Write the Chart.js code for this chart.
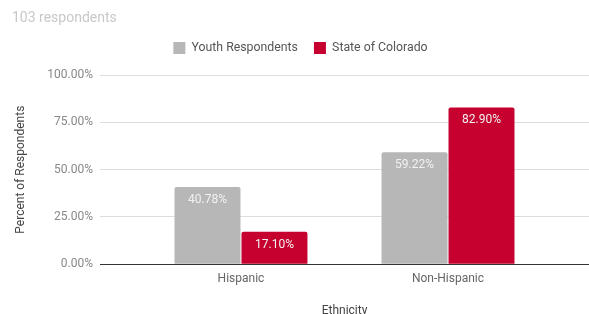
<!DOCTYPE html>
<html>
<head>
<meta charset="utf-8">
<script src="https://cdn.jsdelivr.net/npm/chart.js@4.4.1/dist/chart.umd.min.js"></script>
<style>
html,body{margin:0;padding:0;background:#fff;overflow:hidden;}
#wrap{width:589px;height:314px;position:relative;}
</style>
</head>
<body>
<div id="wrap"><canvas id="chart"></canvas></div>
<script>
const categories=["Hispanic","Non-Hispanic"];
const youthValues=[40.78,59.22];
const coloradoValues=[17.10,82.90];
const yTicks=[0,25,50,75,100];

const barLabels={
id:"barLabels",
afterDatasetsDraw(chart){
const ctx=chart.ctx;
ctx.save();
ctx.font="12px Roboto";
ctx.fillStyle="#f2f2f2";
ctx.textAlign="center";
ctx.textBaseline="middle";
chart.data.datasets.forEach((ds,i)=>{
chart.getDatasetMeta(i).data.forEach((bar,j)=>{
ctx.fillText(ds.data[j].y.toFixed(2)+"%",bar.x,bar.y+13);
});
});
ctx.restore();
}
};

new Chart(document.getElementById("chart"),{
type:"bar",
data:{
datasets:[{
label:"Youth Respondents",
data:youthValues.map((v,i)=>({x:i,y:v})),
backgroundColor:"#b7b7b7",
borderRadius:2,
borderSkipped:"bottom",
xAxisID:"x",
yAxisID:"y"
},{
label:"State of Colorado",
data:coloradoValues.map((v,i)=>({x:i,y:v})),
backgroundColor:"#c6002f",
borderRadius:2,
borderSkipped:"bottom",
xAxisID:"x",
yAxisID:"y"
}]
},
options:{
responsive:true,
maintainAspectRatio:false,
animation:false,
categoryPercentage:0.647,
barPercentage:0.985,
layout:{padding:{left:12,right:0,top:0,bottom:-4}},
plugins:{
title:{
display:true,
text:"103 respondents",
align:"start",
color:"#c8c8c8",
font:{family:"Roboto",size:14,weight:"normal"},
padding:{top:10,bottom:-1}
},
legend:{
labels:{
boxWidth:12,
boxHeight:12,
padding:16,
color:"#555",
font:{family:"Roboto",size:12.3}
}
},
tooltip:{enabled:false}
},
scales:{
x:{
type:"linear",
offset:false,
min:-0.681,
max:1.681,
afterBuildTicks:s=>{s.ticks=categories.map((c,i)=>({value:i}));},
ticks:{
callback:v=>categories[v],
color:"#666",
font:{family:"Roboto",size:12},
padding:8,
maxRotation:0
},
grid:{display:false,drawTicks:false,offset:false},
border:{display:false},
title:{
display:true,
text:"Ethnicity",
color:"#444",
font:{family:"Roboto",size:12},
padding:{top:9,bottom:0}
}
},
gap:{
type:"linear",
axis:"x",
position:"top",
afterFit:s=>{s.height=11;},
ticks:{display:false},
grid:{display:false,drawTicks:false},
border:{display:false}
},
y:{
min:0,
max:100,
afterBuildTicks:s=>{s.ticks=yTicks.map(v=>({value:v}));},
afterFit:s=>{s.width=88;},
ticks:{
callback:v=>v.toFixed(2)+"%",
color:"#888",
font:{family:"Roboto",size:12},
padding:7
},
grid:{
color:ctx=>ctx.tick.value===0?"#333":"#ddd",
drawTicks:false
},
border:{display:false},
title:{
display:true,
text:"Percent of Respondents",
color:"#444",
font:{family:"Roboto",size:12},
padding:{top:2,bottom:0}
}
}
}
},
plugins:[barLabels]
});
</script>
</body>
</html>
